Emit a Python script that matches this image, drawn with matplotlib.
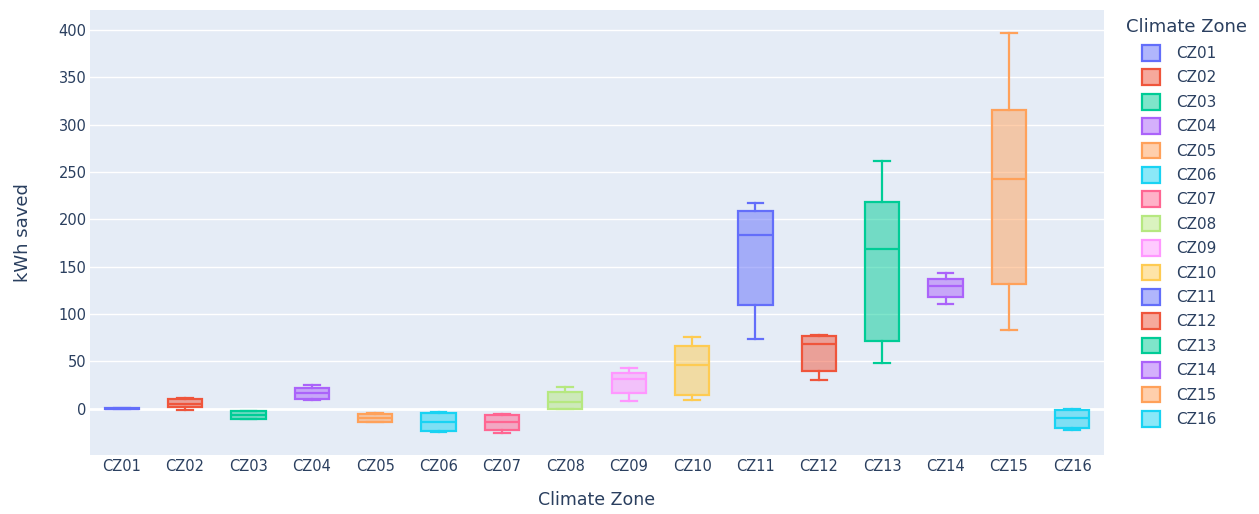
import matplotlib
matplotlib.use("Agg")
import matplotlib.pyplot as plt
from matplotlib.patches import Patch
from matplotlib.colors import to_rgba

zones = ["CZ01", "CZ02", "CZ03", "CZ04", "CZ05", "CZ06", "CZ07", "CZ08",
         "CZ09", "CZ10", "CZ11", "CZ12", "CZ13", "CZ14", "CZ15", "CZ16"]

# five-number summaries of kWh saved per climate zone
mins    = [-0.6, -1.0, -11.0,  9.5, -14.5, -25.0, -25.5, -0.7,  8.0,  9.0,  73.5, 30.0,  48.0, 110.0,  83.0, -23.0]
q1s     = [-0.4,  1.5, -10.5, 10.5, -14.0, -24.0, -22.5,  0.0, 16.0, 14.0, 109.0, 40.0,  71.5, 117.5, 132.0, -20.0]
medians = [ 0.0,  5.0,  -6.5, 16.0, -10.0, -14.5, -14.5,  6.5, 31.0, 46.0, 183.0, 68.0, 169.0, 129.0, 242.5, -10.0]
q3s     = [ 0.4, 10.0,  -3.0, 21.5,  -5.5,  -4.5,  -6.5, 18.0, 38.0, 66.0, 209.0, 77.0, 218.0, 136.5, 315.0,  -1.5]
maxs    = [ 0.6, 11.0,  -2.5, 25.0,  -5.0,  -4.0,  -6.0, 22.5, 43.0, 76.0, 217.0, 78.0, 261.5, 143.0, 397.0,  -0.7]

palette = ["#636EFA", "#EF553B", "#00CC96", "#AB63FA", "#FFA15A",
           "#19D3F3", "#FF6692", "#B6E880", "#FF97FF", "#FECB52"]
colors = [palette[i % len(palette)] for i in range(len(zones))]

text_color = "#2a3f5f"
plt.rcParams["font.family"] = ["DejaVu Sans"]

W, H = 1259, 514
fig = plt.figure(figsize=(W / 100, H / 100), dpi=100)
left, right, top, bottom = 90, 1104, 10, 455
ax = fig.add_axes([left / W, 1 - bottom / H, (right - left) / W, (bottom - top) / H])
ax.set_facecolor("#E5ECF6")

for i, zone in enumerate(zones):
    stats = [dict(label=zone, whislo=mins[i], q1=q1s[i], med=medians[i],
                  q3=q3s[i], whishi=maxs[i], fliers=[])]
    c = colors[i]
    ax.bxp(stats, positions=[i], widths=0.54, capwidths=0.25, patch_artist=True,
           showfliers=False, manage_ticks=False,
           boxprops=dict(facecolor=to_rgba(c, 0.5), edgecolor=c, linewidth=1.6),
           medianprops=dict(color=c, linewidth=1.6),
           whiskerprops=dict(color=c, linewidth=1.6),
           capprops=dict(color=c, linewidth=1.6),
           zorder=3)

ax.set_xlim(-0.5, len(zones) - 0.5)
ax.set_ylim(-49, 421)
ax.set_xticks(range(len(zones)))
ax.set_xticklabels(zones)
ax.set_yticks(range(0, 401, 50))

ax.grid(axis="y", color="white", linewidth=1, zorder=0)
ax.axhline(0, color="white", linewidth=2, zorder=1)
ax.set_axisbelow(True)
for s in ax.spines.values():
    s.set_visible(False)
ax.tick_params(axis="both", length=0, labelsize=10.5, colors=text_color)
ax.tick_params(axis="y", pad=2.5)
ax.tick_params(axis="x", pad=3)

ax.set_xlabel("Climate Zone", fontsize=12.5, color=text_color, labelpad=12)
ax.set_ylabel("kWh saved", fontsize=13, color=text_color, labelpad=19)

# legend: title placed on its own, entries indented beneath it
fig.text(1126 / W, 1 - 27 / H, "Climate Zone", fontsize=13, color=text_color,
         ha="left", va="center")
handles = [Patch(facecolor=to_rgba(c, 0.5), edgecolor=c, linewidth=1.6) for c in colors]
leg = fig.legend(handles, zones, loc="upper left",
                 bbox_to_anchor=(1136 / W, 1 - 39 / H), frameon=False,
                 fontsize=11, handlelength=1.2, handleheight=1.2,
                 handletextpad=1.0, labelspacing=0.55, borderaxespad=0)
for t in leg.get_texts():
    t.set_color(text_color)

fig.savefig("out.png", dpi=100, facecolor="white")
